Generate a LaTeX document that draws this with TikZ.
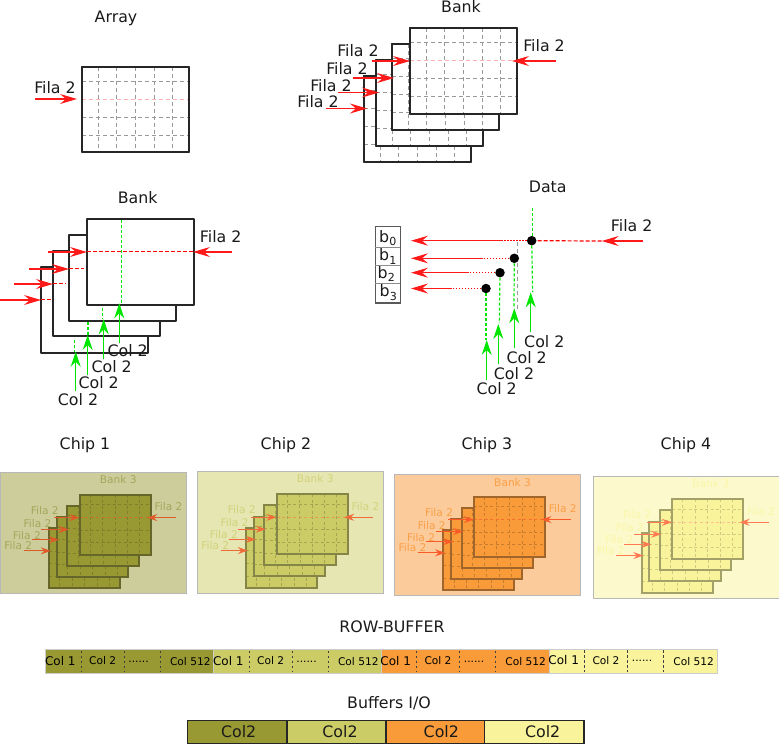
\documentclass[tikz,border=0pt]{standalone}
\usepackage{fontspec}
\setmainfont{DejaVu Sans}
\usetikzlibrary{arrows.meta}

\definecolor{bg0}{HTML}{FFFFFF}
\definecolor{plane0}{HTML}{FFFFFF}
\definecolor{edge0}{HTML}{262626}
\definecolor{grid0}{HTML}{999999}
\definecolor{row0}{HTML}{FFB0B0}
\definecolor{label0}{HTML}{1A1A1A}
\definecolor{fila0}{HTML}{FF1A1A}
\definecolor{bg1}{HTML}{CDCD9C}
\definecolor{plane1}{HTML}{999933}
\definecolor{edge1}{HTML}{66662A}
\definecolor{grid1}{HTML}{7F7F2C}
\definecolor{row1}{HTML}{C9702E}
\definecolor{label1}{HTML}{A6A65C}
\definecolor{fila1}{HTML}{DE5A28}
\definecolor{bg2}{HTML}{E6E6B3}
\definecolor{plane2}{HTML}{CCCC66}
\definecolor{edge2}{HTML}{858548}
\definecolor{grid2}{HTML}{A6A652}
\definecolor{row2}{HTML}{E59A55}
\definecolor{label2}{HTML}{D2D27A}
\definecolor{fila2}{HTML}{F06A3A}
\definecolor{bg3}{HTML}{FCCB9C}
\definecolor{plane3}{HTML}{F99B38}
\definecolor{edge3}{HTML}{A0652A}
\definecolor{grid3}{HTML}{C87C2D}
\definecolor{row3}{HTML}{F5702E}
\definecolor{label3}{HTML}{FA9F45}
\definecolor{fila3}{HTML}{FA5A28}
\definecolor{bg4}{HTML}{FCF9CD}
\definecolor{plane4}{HTML}{F9F49B}
\definecolor{edge4}{HTML}{A3A068}
\definecolor{grid4}{HTML}{CFCB80}
\definecolor{row4}{HTML}{FFC090}
\definecolor{label4}{HTML}{FBF6A8}
\definecolor{fila4}{HTML}{FF7A50}
\definecolor{colgreen}{HTML}{00E600}

\tikzset{
	filaarrow/.style={-{Stealth[length=17pt,width=10pt,inset=6pt]}, draw=fila0, line width=1.2pt},
	colarrow/.style={-{Stealth[length=15pt,width=10pt,inset=5pt]}, draw=colgreen, line width=1.2pt},
	reddash/.style={draw=red, line width=1.2pt, dash pattern=on 4pt off 2pt},
	greendash/.style={draw=colgreen, line width=1.2pt, dash pattern=on 3pt off 2pt},
	griddash/.style={line width=.9pt, dash pattern=on 4pt off 3pt},
	frame/.style={line width=2pt, line join=round},
	bigtext/.style={inner sep=0pt, font=\fontsize{15.8}{18}\selectfont, text=label0},
	smalltext/.style={inner sep=0pt, font=\fontsize{10.6}{12}\selectfont},
	segtext/.style={inner sep=0pt, font=\fontsize{10.6}{12}\selectfont, text=black},
	segdash/.style={draw=black!75, line width=1pt, dash pattern=on 2.5pt off 2.5pt},
}

% one plane with its dashed grid: x, y, colour set, row colour
\newcommand{\gridplane}[4]{
	\draw[frame, draw=edge#3, fill=plane#3] (#1,#2) rectangle ++(107,85.5);
	\foreach \gx in {16,34.5,53.5,72.5,90.5}
		\draw[griddash, draw=grid#3] (#1+\gx,#2) -- (#1+\gx,#2+85.5);
	\foreach \gy/\gc in {14.5/grid#3,32.5/#4,50.5/grid#3,68.5/grid#3}
		\draw[griddash, draw=\gc] (#1,#2+\gy) -- (#1+107,#2+\gy);
	\draw[frame, draw=edge#3] (#1,#2) rectangle ++(107,85.5);
}

% the four planes with their row arrows: colour set, label style, name prefix
\newcommand{\bankplanes}[3]{
	\gridplane{364.3}{76.3}{#1}{grid#1}
	\gridplane{376.3}{60}{#1}{grid#1}
	\gridplane{392}{44}{#1}{grid#1}
	\gridplane{410.3}{28.3}{#1}{row#1}
	\foreach \nm/\xa/\xb/\yy/\xl/\yl in {d/372/410/61/358/50.5, c/353/394/78/347/69, b/338/379/92.5/331/86, a/326/367/108.5/318/101.5, r/556/512/61/544/45.7}{
		\coordinate (#3\nm s) at (\xa,\yy);
		\coordinate (#3\nm e) at (\xb,\yy);
		\draw[filaarrow] (#3\nm s) -- (#3\nm e);
		\node[#2] (#3\nm l) at (\xl,\yl) {Fila 2};
	}
}

\begin{document}
\begin{tikzpicture}[x=1pt,y=-1pt]
	\useasboundingbox (0,0) rectangle (779,744);

	% Array
	\node[bigtext] (arraytitle) at (116,18) {Array};
	\begin{scope}[shift={(82,66.5)}, shift={(-410.3,-28.3)}]
		\gridplane{410.3}{28.3}{0}{row0}
	\end{scope}
	\coordinate (arrays) at (35,99);
	\coordinate (arraye) at (77,99);
	\draw[filaarrow] (arrays) -- (arraye);
	\node[bigtext] (arrayfila) at (55,88) {Fila 2};

	% Bank with rows
	\node[bigtext] (banktitle) at (461,7) {Bank};
	\bankplanes{0}{bigtext}{top}

	% Bank with rows and columns
	\node[bigtext] (midtitle) at (137.7,197.5) {Bank};
	\foreach \px/\py in {41/267.3, 53/251, 69/235.3, 87/219.3}
		\draw[frame, draw=edge0, fill=white] (\px,\py) rectangle ++(106.7,85.4);
	\draw[reddash] (87,251.7) -- (193,251.7);
	\draw[reddash] (69,268.3) -- (84,268.3);
	\draw[reddash] (53,283.7) -- (66,283.7);
	\draw[reddash] (41,299.7) -- (52,299.7);
	\draw[greendash] (121.7,219.5) -- (121.7,303);
	\draw[greendash] (102.7,307.7) -- (102.7,318);
	\draw[greendash] (88,321.7) -- (88,336);
	\draw[greendash] (74.7,340) -- (74.7,352);
	\foreach \nm/\xa/\xb/\yy in {d/48/87/252, c/29/69/269, b/14/53/284, a/0/41/300, r/232/193/252}{
		\coordinate (mid\nm s) at (\xa,\yy);
		\coordinate (mid\nm e) at (\xb,\yy);
		\draw[filaarrow] (mid\nm s) -- (mid\nm e);
	}
	\node[bigtext] (midfila) at (220.7,236.7) {Fila 2};
	\foreach \nm/\xx/\ya/\yb/\xl/\yl in {d/119.3/343.3/303.3/127.7/351, c/103.7/359/319.3/111.7/366.5, b/87.7/375/335/98.7/382.5, a/75.7/390.7/351.7/78/400}{
		\coordinate (mc\nm s) at (\xx,\ya);
		\coordinate (mc\nm e) at (\xx,\yb);
		\draw[colarrow] (mc\nm s) -- (mc\nm e);
		\node[bigtext] (mc\nm l) at (\xl,\yl) {Col 2};
	}

	% Data
	\node[bigtext] (datatitle) at (547.7,186.7) {Data};
	\node[bigtext] (datafila) at (631.7,225.7) {Fila 2};
	\draw[griddash, draw=grid0] (480,240) -- (502,240);
	\draw[griddash, draw=grid0] (517.3,241.7) -- (517.3,310);
	\coordinate (datas) at (643.3,241);
	\coordinate (datae) at (601.7,241);
	\draw[filaarrow] (datas) -- (datae);
	\foreach \nm/\dx/\dy/\xs/\gx/\ge in {a/531.7/240.7/501.7/532.7/292, b/514.3/258.3/483.3/514/308, c/500/272.7/469/499.3/323, d/486/288.5/452.3/486/340}{
		\node[circle, fill=black, inner sep=0pt, minimum size=9.5pt] (dot\nm) at (\dx,\dy) {};
		\coordinate (out\nm s) at (\xs,\dy);
		\coordinate (out\nm e) at (411,\dy);
		\draw[filaarrow] (out\nm s) -- (out\nm e);
		\draw[reddash, dash pattern=on 1.5pt off 1.5pt] (dot\nm) -- (out\nm s);
		\coordinate (gr\nm) at (\gx,\ge);
		\draw[greendash] (dot\nm) -- (gr\nm);
	}
	\draw[greendash] (532.7,208.3) -- (532.7,236);
	\draw[reddash] (datae) -- (dota);
	\foreach \nm/\xx/\ya/\yb/\xl/\yl in {a/530.7/332.3/292.3/544.3/341.7, b/514.3/348.3/308.3/526.7/357.3, c/498.3/364/324/514/373.3, d/486.7/380/340/496.7/388.3}{
		\coordinate (dc\nm s) at (\xx,\ya);
		\coordinate (dc\nm e) at (\xx,\yb);
		\draw[colarrow] (dc\nm s) -- (dc\nm e);
		\node[bigtext] (dc\nm l) at (\xl,\yl) {Col 2};
	}
	\draw[line width=1.2pt, draw=black!65] (375.3,226.7) rectangle (400.3,303);
	\foreach \yy in {247.3,265.7,283.3}
		\draw[line width=.7pt, draw=black!45] (375.3,\yy) -- (400.3,\yy);
	\node[bigtext] (bzero) at (388,238) {b\textsubscript{0}};
	\node[bigtext] (bone) at (388,256.5) {b\textsubscript{1}};
	\node[bigtext] (btwo) at (386.5,274) {b\textsubscript{2}};
	\node[bigtext] (bthree) at (388.5,292.5) {b\textsubscript{3}};

	% Chips
	\foreach \c/\tx/\ox/\oy/\by in {1/85/0/472/7.3, 2/286/197/471.7/7.3, 3/487/394.3/474/8.3, 4/686/592.5/476.7/7.3}{
		\node[bigtext] (chip\c) at (\tx,445.5) {Chip \c};
		\draw[draw=black!28, line width=1pt, fill=bg\c] (\ox+.5,\oy) rectangle ++(186,121.5);
		\node[smalltext, text=label\c] (chip\c bank) at (\ox+118.3,\oy+\by) {Bank 3};
		\begin{scope}[shift={(\ox+49,\oy+56.3)}, xscale=.665, yscale=.7, shift={(-364.3,-76.3)},
			filaarrow/.style={-{Stealth[length=10pt,width=7pt,inset=3.5pt]}, draw=fila\c, line width=1.2pt},
			griddash/.style={line width=.8pt, dash pattern=on 3pt off 2.5pt},
			frame/.style={line width=2pt}]
			\bankplanes{\c}{smalltext, text=label\c}{ch\c}
		\end{scope}
	}

	% Row buffer
	\node[bigtext] (rowtitle) at (392,627) {ROW-BUFFER};
	\foreach \c/\sx/\sy in {1/45.3/649.3, 2/213.3/649.3, 3/380.7/649.3, 4/548.7/648.7}{
		\node[draw=black!20, line width=.5pt, fill=plane\c, inner sep=0pt, minimum width=168pt, minimum height=24pt, anchor=north west] (seg\c) at (\sx,\sy) {};
		\foreach \dd in {35.7,78.7,114.7}
			\draw[segdash] (\sx+\dd,\sy+1.5) -- (\sx+\dd,\sy+23);
		\node[segtext, font=\fontsize{12}{13}\selectfont] (seg\c a) at (\sx+15,\sy+11.7) {Col 1};
		\node[segtext] (seg\c b) at (\sx+57.3,\sy+11.7) {Col 2};
		\node[segtext] (seg\c c) at (\sx+93.3,\sy+12.5) {......};
		\node[segtext] (seg\c d) at (\sx+145,\sy+12.7) {Col 512};
	}

	% Buffers
	\node[bigtext] (iotitle) at (389,703) {Buffers I/O};
	\foreach \c/\bx/\tx in {1/187/238.7, 2/286.3/340, 3/385.3/441.3, 4/484/542.7}{
		\node[draw=black!85, line width=1.3pt, fill=plane\c, inner sep=0pt, minimum width=99.2pt, minimum height=23.3pt, anchor=north west] (buf\c) at (\bx,720) {};
		\node[bigtext] (buftext\c) at (\tx,731.7) {Col2};
	}
\end{tikzpicture}
\end{document}
